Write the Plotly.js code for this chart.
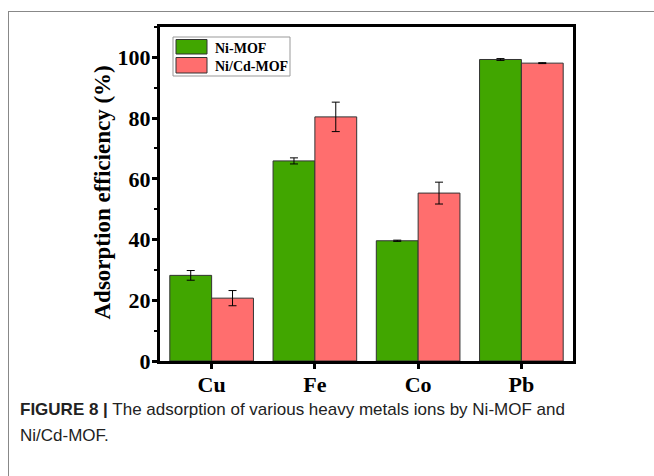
<!DOCTYPE html>
<html><head><meta charset="utf-8">
<script src="https://cdn.plot.ly/plotly-3.0.1.min.js"></script>
<style>html,body{margin:0;padding:0;background:#fff;}#wrap{position:relative;width:654px;height:476px;}
#chart{width:654px;height:476px;}
#frame{position:absolute;left:8px;top:11px;width:646px;height:465px;border-left:1px solid #888;border-top:1px solid #888;pointer-events:none;}</style>
</head><body><div id="wrap"><div id="chart"></div><div id="frame"></div></div>
<script>
const metals = ["Cu", "Fe", "Co", "Pb"];
const niMOF = [28.2, 65.9, 39.6, 99.3];
const niMOFErr = [1.6, 1.0, 0.2, 0.3];
const niCdMOF = [20.7, 80.4, 55.3, 98.1];
const niCdMOFErr = [2.5, 4.85, 3.6, 0.15];
const seriesNames = ["Ni-MOF", "Ni/Cd-MOF"];
const colors = ["#41a600", "#ff6e6e"];

const L = 160, R = 573, T = 27, B = 361, W = 654, H = 476;
const px = x => (x - L) / (R - L);
const py = y => (B - y) / (B - T);

const traces = [
  {type: "bar", name: seriesNames[0], x: metals, y: niMOF,
   marker: {color: colors[0], line: {color: "#333", width: 1}},
   error_y: {type: "data", array: niMOFErr, visible: true, color: "#000", thickness: 1, width: 4},
   showlegend: false},
  {type: "bar", name: seriesNames[1], x: metals, y: niCdMOF,
   marker: {color: colors[1], line: {color: "#333", width: 1}},
   error_y: {type: "data", array: niCdMOFErr, visible: true, color: "#000", thickness: 1, width: 4},
   showlegend: false}
];

const tf = {family: "Liberation Serif, Times New Roman, serif", color: "#000"};
const shapes = [
  {type: "rect", xref: "paper", yref: "paper", x0: px(173), x1: px(290), y0: py(37), y1: py(76),
   line: {color: "#999", width: 1}, fillcolor: "#fff"},
  {type: "rect", xref: "paper", yref: "paper", x0: px(176), x1: px(207), y0: py(39.5), y1: py(54),
   line: {color: "#333", width: 1}, fillcolor: colors[0]},
  {type: "rect", xref: "paper", yref: "paper", x0: px(176), x1: px(207), y0: py(57.5), y1: py(73),
   line: {color: "#333", width: 1}, fillcolor: colors[1]}
];
const cap = {family: "Liberation Sans, Arial, sans-serif", size: 17, color: "#222"};
const annotations = [
  {xref: "paper", yref: "paper", x: px(213), y: py(48), xanchor: "left", yanchor: "middle", showarrow: false,
   text: "<b>" + seriesNames[0] + "</b>", font: Object.assign({size: 14}, tf)},
  {xref: "paper", yref: "paper", x: px(213), y: py(66), xanchor: "left", yanchor: "middle", showarrow: false,
   text: "<b>" + seriesNames[1] + "</b>", font: Object.assign({size: 14}, tf)},
  {xref: "paper", yref: "paper", x: px(102), y: py(192.5), xanchor: "center", yanchor: "middle", showarrow: false,
   textangle: -90, text: "<b>Adsorption efficiency (%)</b>", font: Object.assign({size: 23}, tf)},
  {xref: "paper", yref: "paper", x: px(18), y: py(409), xanchor: "left", yanchor: "middle", showarrow: false, align: "left",
   text: "<b>FIGURE 8 |</b> The adsorption of various heavy metals ions by Ni-MOF and", font: cap},
  {xref: "paper", yref: "paper", x: px(18), y: py(435), xanchor: "left", yanchor: "middle", showarrow: false, align: "left",
   text: "Ni/Cd-MOF.", font: cap}
];

const layout = {
  width: W, height: H,
  margin: {l: L, r: W - R, t: T, b: H - B, pad: 0},
  paper_bgcolor: "#fff", plot_bgcolor: "#fff",
  barmode: "group", bargap: 0.19, bargroupgap: 0,
  showlegend: false,
  xaxis: {range: [-0.5, 3.5], showline: true, linecolor: "#000", linewidth: 3, mirror: true,
    ticks: "outside", ticklen: 5, tickwidth: 3, tickcolor: "#000", showgrid: false, zeroline: false,
    ticklabelstandoff: -3,
    tickfont: Object.assign({size: 22}, tf), tickprefix: "<b>", ticksuffix: "</b>"},
  yaxis: {range: [0, 110], showline: true, linecolor: "#000", linewidth: 3, mirror: true,
    ticks: "outside", ticklen: 5, tickwidth: 3, tickcolor: "#000", dtick: 20, tick0: 0,
    minor: {dtick: 10, ticks: "outside", ticklen: 3, tickwidth: 2, tickcolor: "#000"},
    showgrid: false, zeroline: false, ticklabelstandoff: -3,
    tickfont: Object.assign({size: 22}, tf), tickprefix: "<b>", ticksuffix: "</b>"},
  shapes: shapes, annotations: annotations
};
Plotly.newPlot("chart", traces, layout, {displayModeBar: false, staticPlot: true});
</script></body></html>
